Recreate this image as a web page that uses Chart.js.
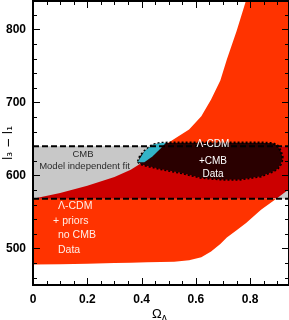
<!DOCTYPE html>
<html>
<head>
<meta charset="utf-8">
<script src="https://cdn.jsdelivr.net/npm/chart.js@4.4.1/dist/chart.umd.min.js"></script>
<style>
  html, body { margin: 0; padding: 0; background: #fff; }
  canvas { display: block; }
</style>
</head>
<body>
<canvas id="chart" width="289" height="320"></canvas>
<script>
// Omega_Lambda grid shared by the priors region boundaries
const omega = [0, 0.1, 0.2, 0.3, 0.36, 0.42, 0.47, 0.52, 0.575, 0.62, 0.656, 0.69, 0.714, 0.75, 0.785, 0.84, 0.9, 0.943];
// Lambda-CDM + priors (no CMB) region : upper and lower edge of l3 - l1
const priorsTop = [568, 576, 586, 598, 608, 622, 638, 650, 663, 681, 704, 730, 759, 798, 840, 840, 840, 840];
const priorsBottom = [478, 478.5, 479, 480, 480.5, 481, 481.5, 482, 484, 488, 496, 506, 515, 525, 535, 553, 569, 581];

// CMB model independent fit band (dashed lines)
const bandTop = 640;
const bandBottom = 568;

// Lambda-CDM + CMB data contour
const contourOmega = [0.387, 0.395, 0.41, 0.44, 0.47, 0.54, 0.62, 0.7, 0.76, 0.84, 0.884, 0.9, 0.912, 0.92];
const contourTop = [619, 627, 633, 642, 644.5, 645, 645, 645, 645, 645, 644, 641, 634, 624];
const contourBottom = [619, 616, 614, 611.5, 609, 604, 597, 594.5, 594.5, 599, 605.5, 609, 615, 624];

// part of the contour outside the priors region
const wedgeOmega = [0.387, 0.41, 0.44, 0.47, 0.49];
const wedgeTop = [619, 633, 642, 644.5, 645];
const wedgeBottom = [618, 618, 626, 637, 645];

const xTicks = [0, 0.2, 0.4, 0.6, 0.8];
const yTicks = [500, 600, 700, 800];

const xMax = 0.943;
const pts = (xs, ys) => xs.map((x, i) => ({ x: x, y: ys[i] }));

// overlap of the priors region with the CMB band
const overlapTop = priorsTop.map(v => Math.min(v, bandTop));
const overlapBottom = priorsBottom.map(v => Math.max(v, bandBottom));

const ORANGE = '#ff3300';
const DARKRED = '#cc0000';
const GREY = '#c8c8c8';
const MAROON = '#2a0000';
const CYAN = '#33b4c8';

const none = { borderWidth: 0, pointRadius: 0 };

const datasets = [
  // 0,1 dashed band limits
  { data: pts([0, xMax], [bandTop, bandTop]), borderColor: '#000', borderWidth: 2, borderDash: [6, 3], pointRadius: 0, order: 0 },
  { data: pts([0, xMax], [bandBottom, bandBottom]), borderColor: '#000', borderWidth: 2, borderDash: [6, 3], pointRadius: 0, order: 0 },
  // 2,3 cyan wedge
  { ...none, data: pts(wedgeOmega, wedgeTop), fill: 3, backgroundColor: CYAN, order: 1 },
  { ...none, data: pts(wedgeOmega, wedgeBottom), order: 1 },
  // 4,5 CMB + Lambda-CDM contour
  { data: pts(contourOmega, contourTop), fill: 5, backgroundColor: MAROON, borderColor: '#000', borderWidth: 2.5, borderDash: [2, 2], pointRadius: 0, order: 2 },
  { data: pts(contourOmega, contourBottom), borderColor: '#000', borderWidth: 2.5, borderDash: [2, 2], pointRadius: 0, order: 2 },
  // 6,7 overlap
  { ...none, data: pts(omega, overlapTop), fill: 7, backgroundColor: DARKRED, order: 3 },
  { ...none, data: pts(omega, overlapBottom), order: 3 },
  // 8,9 grey band
  { ...none, data: pts([0, xMax], [bandTop, bandTop]), fill: 9, backgroundColor: GREY, order: 4 },
  { ...none, data: pts([0, xMax], [bandBottom, bandBottom]), order: 4 },
  // 10,11 priors region
  { ...none, data: pts(omega, priorsTop), fill: 11, backgroundColor: ORANGE, order: 5 },
  { ...none, data: pts(omega, priorsBottom), order: 5 }
];

const labels = {
  id: 'labels',
  afterDatasetsDraw(chart) {
    const { ctx, scales: { x, y } } = chart;
    const put = (t, vx, vy, align) => {
      ctx.textAlign = align;
      ctx.fillText(t, x.getPixelForValue(vx), y.getPixelForValue(vy));
    };
    ctx.save();
    ctx.textBaseline = 'middle';
    ctx.fillStyle = '#2a2a2a';
    ctx.font = '9.5px "Liberation Sans", sans-serif';
    put('CMB', 0.184, 629, 'center');
    put('Model independent fit', 0.19, 612.5, 'center');

    ctx.fillStyle = '#ffffff';
    ctx.font = '10px "Liberation Sans", sans-serif';
    put('Λ-CDM', 0.663, 643, 'center');
    put('+CMB', 0.663, 620, 'center');
    put('Data', 0.663, 602, 'center');

    ctx.fillStyle = '#ffeee6';
    ctx.font = '10.5px "Liberation Sans", sans-serif';
    put('Λ-CDM', 0.092, 557.5, 'left');
    put('+ priors', 0.074, 537, 'left');
    put('no CMB', 0.092, 518, 'left');
    put('Data', 0.092, 497.5, 'left');
    ctx.restore();
  }
};

// frame with inward ticks on all four sides, plus the Omega_Lambda title
const frame = {
  id: 'frame',
  afterDraw(chart) {
    const { ctx, chartArea: a, scales: { x, y } } = chart;
    ctx.save();
    ctx.strokeStyle = '#000';
    ctx.lineWidth = 1;
    ctx.beginPath();
    for (let i = 0; i * 0.05 <= x.max + 1e-9; i++) {
      const px = Math.round(x.getPixelForValue(i * 0.05)) + 0.5;
      const len = i % 4 === 0 ? 7 : 4;
      ctx.moveTo(px, a.bottom); ctx.lineTo(px, a.bottom - len);
      ctx.moveTo(px, a.top); ctx.lineTo(px, a.top + len);
    }
    for (let v = 460; v <= y.max; v += 20) {
      const py = Math.round(y.getPixelForValue(v)) + 0.5;
      const len = v % 100 === 0 ? 7 : 4;
      ctx.moveTo(a.left, py); ctx.lineTo(a.left + len, py);
      ctx.moveTo(a.right, py); ctx.lineTo(a.right - len, py);
    }
    ctx.stroke();
    ctx.lineWidth = 2;
    ctx.strokeRect(a.left, a.top, a.right - a.left, a.bottom - a.top);

    ctx.fillStyle = '#000';
    ctx.textBaseline = 'alphabetic';
    ctx.textAlign = 'left';
    ctx.font = '13px "Liberation Sans", sans-serif';
    ctx.fillText('Ω', 152, 318);
    ctx.font = 'bold 7px "Liberation Sans", sans-serif';
    ctx.fillText('Λ', 162, 320);
    ctx.restore();
  }
};

new Chart(document.getElementById('chart'), {
  type: 'line',
  data: { datasets: datasets },
  options: {
    responsive: false,
    animation: false,
    devicePixelRatio: 1,
    layout: { padding: { top: 1, right: 0, left: 0, bottom: 0 } },
    elements: { line: { tension: 0 } },
    plugins: { legend: { display: false }, tooltip: { enabled: false } },
    scales: {
      x: {
        type: 'linear',
        min: 0,
        max: xMax,
        afterFit: s => { s.height = 35; s.paddingLeft = 0; s.paddingRight = 0; },
        afterBuildTicks: s => { s.ticks = xTicks.map(v => ({ value: v })); },
        grid: { display: false, drawTicks: false },
        border: { display: false },
        ticks: {
          padding: 7,
          color: '#000',
          font: { family: '"Liberation Sans", sans-serif', size: 12, weight: 'bold' },
          callback: v => String(v)
        }
      },
      y: {
        type: 'linear',
        min: 450,
        max: 839,
        afterFit: s => { s.width = 33; s.paddingTop = 0; s.paddingBottom = 0; },
        afterBuildTicks: s => { s.ticks = yTicks.map(v => ({ value: v })); },
        grid: { display: false, drawTicks: false },
        border: { display: false },
        ticks: {
          padding: 7,
          color: '#000',
          font: { family: '"Liberation Sans", sans-serif', size: 12, weight: 'bold' }
        },
        title: {
          display: true,
          text: 'l₃ − l₁',
          color: '#000',
          font: { family: '"DejaVu Sans", sans-serif', size: 12 },
          padding: { top: 2, bottom: 0 }
        }
      }
    }
  },
  plugins: [labels, frame]
});
</script>
</body>
</html>
